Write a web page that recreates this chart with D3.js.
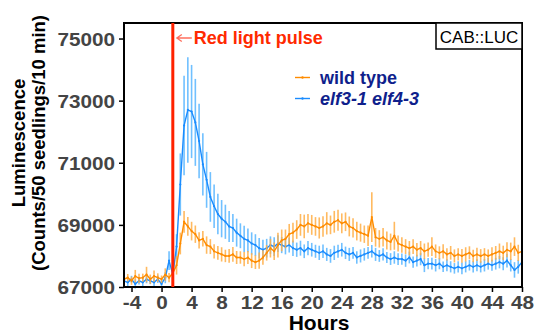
<!DOCTYPE html>
<html>
<head>
<meta charset="utf-8">
<script src="https://cdn.jsdelivr.net/npm/d3@7"></script>
<style>
  body { margin: 0; background: #fff; }
  text { font-family: "Liberation Sans", Arial, sans-serif; }
</style>
</head>
<body>
<div id="graph_div"></div>
<script>
// time points (hours, 30 min sampling)
const hours = [-5,-4.5,-4,-3.5,-3,-2.5,-2,-1.5,-1,-0.5,0,0.5,1,1.5,
  2,2.5,3,3.5,4,4.5,5,
  5.5,6,6.5,7,7.5,8,8.5,9,9.5,10,10.5,11,11.5,12,12.5,13,13.5,
  14,14.5,15,15.5,16,16.5,17,17.5,18,18.5,19,19.5,20,20.5,21,21.5,22,22.5,23,23.5,24,
  24.5,25,25.5,26,26.5,27,27.5,28,28.5,29,29.5,30,30.5,31,31.5,32,32.5,33,33.5,34,34.5,35,
  35.5,36,36.5,37,37.5,38,38.5,39,39.5,40,40.5,41,41.5,42,42.5,43,43.5,44,44.5,45,45.5,46,46.5,47,47.5,48];

// wild type
const wtMean = [67250,67300,67200,67350,67280,67300,67400,67250,67350,67300,67250,67400,67300,67450,
  67700,68400,69100,68950,68800,68700,68500,
  68550,68350,68300,68150,68100,68050,68000,68000,68050,67950,67950,67900,67950,67850,67800,67850,67950,
  68100,68250,68150,68350,68500,68550,68700,68750,68850,69000,68950,69050,69000,68950,68900,68950,69050,69000,69100,69150,69050,
  69100,68950,68900,68800,68750,68700,68650,69250,68600,68550,68600,68500,68450,68650,68400,68350,68300,68250,68300,68200,68250,68150,
  68200,68300,68150,68100,68150,68050,68100,68000,68050,68000,68050,68100,68000,68050,68000,68050,68000,68050,68100,68150,68100,68200,68150,68300,68100,68150];
const wtErr = [150,120,130,200,150,130,250,150,180,140,120,200,150,150,
  300,350,350,300,300,280,260,
  250,280,240,230,220,230,200,220,240,210,200,230,210,240,220,260,230,
  250,300,280,400,350,300,330,320,300,350,380,300,320,300,340,330,360,300,350,340,320,
  300,320,310,300,290,280,330,800,300,280,300,290,270,450,260,250,240,230,240,220,230,250,
  230,300,220,210,230,200,220,210,200,220,230,210,200,210,220,200,210,230,220,250,230,240,280,300,260,250];

// elf3-1 elf4-3
const dblMean = [67200,67150,67250,67100,67200,67150,67250,67200,67150,67250,67100,67300,67850,67400,
  68300,70300,72200,72700,72650,72300,71700,
  70950,70450,69900,69600,69350,69200,69100,68950,68900,68750,68650,68550,68500,68400,68350,68250,68200,
  68250,68350,68300,68400,68350,68300,68350,68250,68200,68250,68150,68250,68200,68150,68100,68150,68050,68000,68100,68150,68200,
  68100,68050,68100,67950,68000,68050,68100,68150,68050,68000,68050,67950,67900,67950,67900,67900,67850,67950,67800,67850,67900,67700,
  67750,67750,67700,67750,67650,67700,67650,67600,67650,67600,67650,67700,67650,67700,67650,67700,67750,67700,67750,67800,67750,67850,67700,67550,67650,67800];
const dblErr = [120,130,110,150,120,140,130,110,150,120,130,180,300,200,
  400,1000,1600,1700,1500,1400,1200,
  1000,900,800,700,650,600,550,500,450,450,400,420,380,360,350,330,320,
  300,280,300,270,260,250,240,250,230,240,220,230,220,210,230,220,210,220,230,210,220,
  200,210,190,200,210,200,190,200,210,190,200,180,190,200,190,180,200,190,180,190,200,220,
  180,190,200,180,170,190,180,170,180,190,180,170,180,190,180,200,190,180,190,200,210,220,200,250,220,200];

const seriesNames = ["wild type", "elf3-1 elf4-3"];
const yTicks = [67000, 69000, 71000, 73000, 75000];
const xTicks = [-4, 0, 4, 8, 12, 16, 20, 24, 28, 32, 36, 40, 44, 48];
const pulseHour = 1.5;

const margin = { top: 23, right: 12, bottom: 46, left: 124 };
const width = 534 - margin.left - margin.right;
const height = 333 - margin.top - margin.bottom;

const x = d3.scaleLinear().domain([-5, 48]).range([0, width]);
const y = d3.scaleLinear().domain([67000, 75500]).range([height, 0]);

const svg = d3.select("#graph_div")
  .append("svg").attr("width", 534).attr("height", 333)
  .append("g").attr("transform", `translate(${margin.left},${margin.top})`);

// series table
const series = [
  { name: seriesNames[1], mean: dblMean, err: dblErr, color: "#1a8cff", errColor: "#58b6ff", italic: true },
  { name: seriesNames[0], mean: wtMean, err: wtErr, color: "#ff8c00", errColor: "#ffae45", italic: false }
];

series.forEach(s => {
  const pts = hours.map((h, i) => ({ h: h, v: s.mean[i], e: s.err[i] }));
  const g = svg.append("g");

  g.selectAll("line.err").data(pts).enter().append("line")
    .attr("x1", d => x(d.h)).attr("x2", d => x(d.h))
    .attr("y1", d => y(d.v - d.e)).attr("y2", d => y(d.v + d.e))
    .attr("stroke", s.errColor).attr("stroke-width", 1.6).attr("opacity", 0.85);

  const line = d3.line().x(d => x(d.h)).y(d => y(d.v));
  g.append("path").datum(pts)
    .attr("fill", "none").attr("stroke", s.color).attr("stroke-width", 1.4)
    .attr("d", line);

  g.selectAll("circle").data(pts).enter().append("circle")
    .attr("cx", d => x(d.h)).attr("cy", d => y(d.v)).attr("r", 1.1)
    .attr("fill", s.color);
});

// axes
const yAxis = svg.append("g")
  .call(d3.axisLeft(y).tickValues(yTicks).tickSize(5).tickPadding(3).tickFormat(d => String(d)));
const xAxis = svg.append("g").attr("transform", `translate(0,${height})`)
  .call(d3.axisBottom(x).tickValues(xTicks).tickSize(5).tickPadding(4).tickFormat(d => String(d)));

[yAxis, xAxis].forEach(a => {
  a.select(".domain").remove();
  a.selectAll(".tick line").attr("stroke", "#000").attr("stroke-width", 1.5);
  a.selectAll(".tick text")
    .style("font-size", "18px").style("font-weight", "bold")
    .style("font-family", "'Liberation Sans', Arial, sans-serif")
    .attr("fill", "#444");
});
yAxis.selectAll(".tick text").attr("dy", "0.36em").attr("transform", "scale(1.15,1)").attr("x", -7.8);
xAxis.selectAll(".tick text").attr("dy", "0.7em").attr("transform", "scale(1.15,1)").attr("x", 0);

// frame
svg.append("rect").attr("x", 0).attr("y", 0).attr("width", width).attr("height", height)
  .attr("fill", "none").attr("stroke", "#000").attr("stroke-width", 2);

// red light pulse
svg.append("line")
  .attr("x1", x(pulseHour)).attr("x2", x(pulseHour)).attr("y1", 0).attr("y2", height)
  .attr("stroke", "#ff2200").attr("stroke-width", 3);

const ax = x(pulseHour) + 4;
svg.append("path")
  .attr("d", `M ${ax + 15} 15 L ${ax} 15 M ${ax + 5} 11.5 L ${ax} 15 L ${ax + 5} 18.5`)
  .attr("fill", "none").attr("stroke", "#ff6f5e").attr("stroke-width", 1.3);

svg.append("text")
  .attr("x", x(pulseHour) + 21).attr("y", 21)
  .style("font-size", "18px").style("font-weight", "bold")
  .attr("fill", "#ff2a00")
  .text("Red light pulse");

// CAB::LUC box
svg.append("rect").attr("x", width - 86).attr("y", 0).attr("width", 86).attr("height", 26)
  .attr("fill", "#fff").attr("stroke", "#000").attr("stroke-width", 1.5);
svg.append("text").attr("x", width - 43).attr("y", 19.5).attr("text-anchor", "middle")
  .style("font-size", "17px").attr("fill", "#000").text("CAB::LUC");

// legend
const legend = svg.append("g").attr("transform", `translate(${171},${54.5})`);
[series[1], series[0]].forEach((s, i) => {
  const row = legend.append("g").attr("transform", `translate(0,${i * 21})`);
  row.append("line").attr("x1", 0).attr("x2", 15).attr("y1", 0).attr("y2", 0)
    .attr("stroke", s.color).attr("stroke-width", 1.4);
  row.append("circle").attr("cx", 7.5).attr("cy", 0).attr("r", 1.2).attr("fill", s.color);
  row.append("text").attr("x", 25).attr("y", 6)
    .style("font-size", "18px").style("font-weight", "bold")
    .style("font-style", s.italic ? "italic" : "normal")
    .attr("fill", "#0f1f8c").text(s.name);
});

// axis titles
svg.append("text")
  .attr("x", width / 2 - 4).attr("y", height + 43).attr("text-anchor", "middle")
  .style("font-size", "21px").style("font-weight", "bold").attr("fill", "#000")
  .text("Hours");

const yTitle = svg.append("text")
  .attr("transform", `translate(${-99},${height / 2 - 12}) rotate(-90)`)
  .attr("text-anchor", "middle")
  .style("font-size", "18.5px").style("font-weight", "bold").attr("fill", "#000");
yTitle.append("tspan").attr("x", 0).attr("y", 0).text("Luminescence");
yTitle.append("tspan").attr("x", 0).attr("y", 20).text("(Counts/50 seedlings/10 min)");
</script>
</body>
</html>
